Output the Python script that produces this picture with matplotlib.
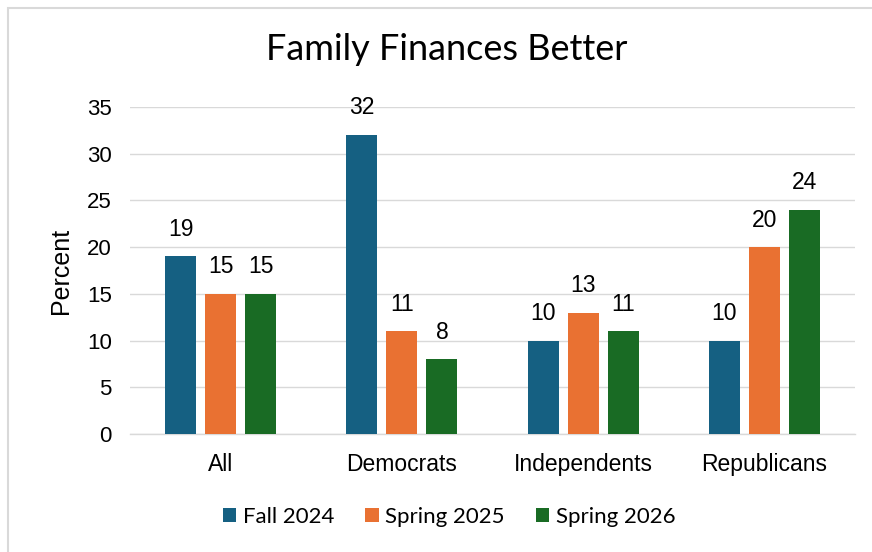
import matplotlib.pyplot as plt
import numpy as np
from matplotlib.patches import Rectangle

categories = ["All", "Democrats", "Independents", "Republicans"]
series_names = ["Fall 2024", "Spring 2025", "Spring 2026"]
fall_2024 = [19, 32, 10, 10]
spring_2025 = [15, 11, 13, 20]
spring_2026 = [15, 8, 11, 24]
colors = ["#156082", "#E97132", "#196B24"]
yticks = [0, 5, 10, 15, 20, 25, 30, 35]

num_font = "Liberation Sans"
text_font = "Lato"

fig = plt.figure(figsize=(8.72, 5.52), dpi=100)
ax = fig.add_axes([0.149, 0.2138, 0.8315, 0.5924])

# chart frame
fig.patches.append(Rectangle((8 / 872, -0.1), 1.2, 1 - 8 / 552 + 0.1,
                             transform=fig.transFigure, fill=False,
                             edgecolor="#D9D9D9", linewidth=1.5))

x = np.arange(len(categories))
width = 0.171
step = 0.221
for i, (vals, name, c) in enumerate(zip([fall_2024, spring_2025, spring_2026],
                                        series_names, colors)):
    pos = x + (i - 1) * step
    bars = ax.bar(pos, vals, width, color=c, label=name, zorder=3)
    for b, v in zip(bars, vals):
        ax.text(b.get_x() + b.get_width() / 2, v + 2.9, str(v),
                ha="center", va="center", fontsize=16.5, family=num_font,
                color="#000000", zorder=4)

ax.set_xlim(-0.5, 3.5)
ax.set_ylim(0, 35)
ax.set_yticks(yticks)
ax.set_yticklabels([str(t) for t in yticks], fontsize=16, family=num_font)
ax.set_xticks(x)
ax.set_xticklabels(categories, fontsize=16.5, family=num_font)
ax.tick_params(axis="x", length=0, pad=14)
ax.tick_params(axis="y", length=0, pad=13)
ax.yaxis.grid(True, color="#D9D9D9", linewidth=1, zorder=0)
for s in ["top", "right", "left"]:
    ax.spines[s].set_visible(False)
ax.spines["bottom"].set_color("#D9D9D9")
ax.spines["bottom"].set_linewidth(1)

ax.set_ylabel("Percent", fontsize=18, family=num_font, labelpad=10)

fig.text(0.512, 0.91, "Family Finances Better", ha="center", va="center",
         fontsize=26, family=text_font)

leg = fig.legend(loc="center", bbox_to_anchor=(0.515, 0.063), ncol=3,
                 frameon=False, prop={"family": text_font, "size": 16},
                 handlelength=0.6, handleheight=0.6, handletextpad=0.3,
                 columnspacing=1.4)

fig.savefig("out.png", dpi=100, facecolor="white")
